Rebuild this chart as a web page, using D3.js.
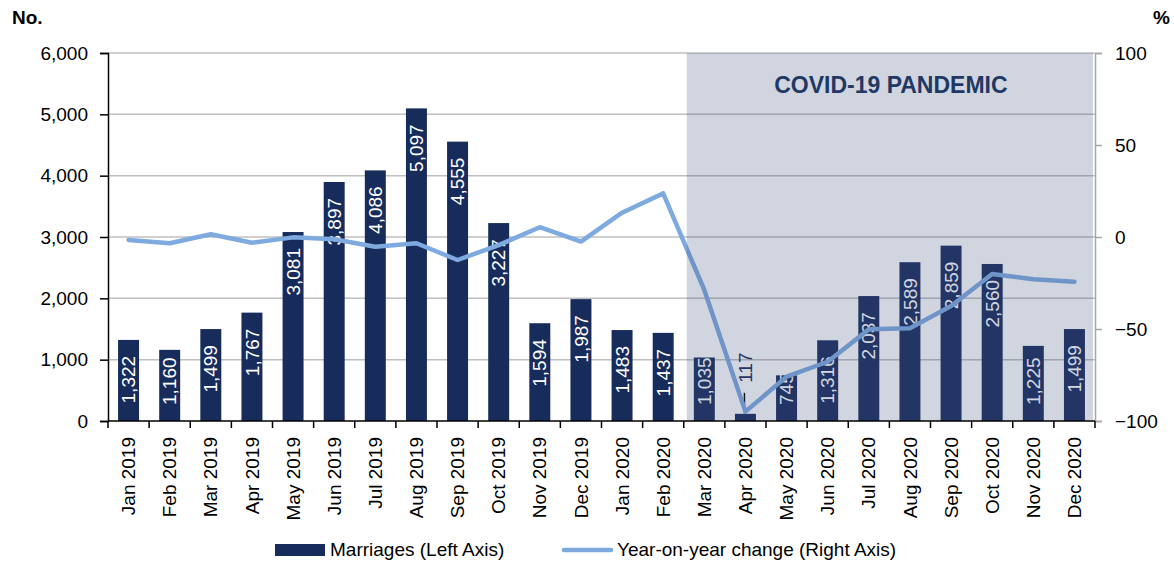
<!DOCTYPE html>
<html>
<head>
<meta charset="utf-8">
<script src="https://cdn.jsdelivr.net/npm/d3@7"></script>
<style>
  body { margin: 0; background: #fff; }
  svg { display: block; font-family: "Liberation Sans", Arial, sans-serif; }
</style>
</head>
<body>
<svg id="chart" width="1174" height="564"></svg>
<script>
// Data
const months = [
  'Jan 2019', 'Feb 2019', 'Mar 2019', 'Apr 2019', 'May 2019', 'Jun 2019',
  'Jul 2019', 'Aug 2019', 'Sep 2019', 'Oct 2019', 'Nov 2019', 'Dec 2019',
  'Jan 2020', 'Feb 2020', 'Mar 2020', 'Apr 2020', 'May 2020', 'Jun 2020',
  'Jul 2020', 'Aug 2020', 'Sep 2020', 'Oct 2020', 'Nov 2020', 'Dec 2020',
];
const marriages = [
  1322, 1160, 1499, 1767, 3081, 3897, 4086, 5097, 4555, 3227, 1594, 1987,
  1483, 1437, 1035, 117, 745, 1316, 2037, 2589, 2859, 2560, 1225, 1499,
];
const yoyChange = [
  -1.6, -3.4, 1.5, -3.1, -0.2, -1.2, -5.3, -3.4, -12.5, -4.4, 5.3, -2.5,
  13.2, 23.7, -28.8, -94.9, -75.9, -67.8, -50.2, -49.6, -37.5, -20.1, -23.0, -24.3,
];
const leftTicks = [0, 1000, 2000, 3000, 4000, 5000, 6000];
const rightTicks = [-100, -50, 0, 50, 100];
const pandemicStart = 'Mar 2020';
const outsideLabels = ['Apr 2020'];

// Settings
const bar_color = '#182c5c';
const line_color = '#7eaadf';
const grid_color = '#bfbfbf';
const font_size = 19;

const svg = d3.select('#chart');
const m = { left: 108, right: 1095, top: 53, bottom: 421 };

const x = d3.scaleBand()
  .domain(months)
  .range([m.left, m.right])
  .paddingInner(0.49)
  .paddingOuter(0.245);
const yL = d3.scaleLinear().domain([0, 6000]).range([m.bottom, m.top]);
const yR = d3.scaleLinear().domain([-100, 100]).range([m.bottom, m.top]);

// Gridlines
svg.append('g')
  .selectAll('line')
  .data(leftTicks.filter(d => d > 0))
  .enter()
  .append('line')
  .attr('x1', m.left)
  .attr('x2', m.right)
  .attr('y1', d => yL(d))
  .attr('y2', d => yL(d))
  .attr('stroke', grid_color)
  .attr('stroke-width', 1.5);

// Bars
svg.append('g')
  .selectAll('rect')
  .data(months)
  .enter()
  .append('rect')
  .attr('x', d => x(d))
  .attr('width', x.bandwidth())
  .attr('y', (d, i) => yL(marriages[i]))
  .attr('height', (d, i) => yL(0) - yL(marriages[i]))
  .attr('fill', bar_color);

// Bar labels
const labels = svg.append('g');
months.forEach((mo, i) => {
  const cx = x(mo) + x.bandwidth() / 2;
  const top = yL(marriages[i]);
  const txt = labels.append('text')
    .attr('font-size', font_size)
    .attr('dy', '0.35em')
    .text(d3.format(',')(marriages[i]));
  const len = txt.node().getComputedTextLength();
  if (outsideLabels.includes(mo)) {
    // label sits above the bar with a leader line
    const bottom = top - 31;
    txt.attr('fill', bar_color)
      .attr('transform', `translate(${cx},${bottom}) rotate(-90)`);
    labels.append('line')
      .attr('x1', cx - 1).attr('x2', cx - 1)
      .attr('y1', top - 1).attr('y2', top - 21)
      .attr('stroke', '#000').attr('stroke-width', 1.5);
  } else {
    const bottom = Math.min(top + 16 + len, m.bottom - 16);
    txt.attr('fill', '#fff')
      .attr('transform', `translate(${cx},${bottom}) rotate(-90)`);
  }
});

// Year-on-year line
const line = d3.line()
  .x((d, i) => x(months[i]) + x.bandwidth() / 2)
  .y(d => yR(d));
svg.append('path')
  .datum(yoyChange)
  .attr('d', line)
  .attr('fill', 'none')
  .attr('stroke', line_color)
  .attr('stroke-width', 4.5)
  .attr('stroke-linejoin', 'round')
  .attr('stroke-linecap', 'round');

// Pandemic shading (drawn over the marks)
const shadeX = x(pandemicStart) - x.step() * x.paddingInner() / 2 + 3;
svg.append('rect')
  .attr('x', shadeX)
  .attr('y', m.top)
  .attr('width', m.right - 2 - shadeX)
  .attr('height', m.bottom - m.top)
  .attr('fill', '#405480')
  .attr('fill-opacity', 0.245);
svg.append('text')
  .attr('x', (shadeX + m.right) / 2)
  .attr('y', 93)
  .attr('text-anchor', 'middle')
  .attr('font-size', 23)
  .attr('font-weight', 'bold')
  .attr('fill', '#1f3864')
  .text('COVID-19 PANDEMIC');

// Left axis
const leftAxis = svg.append('g')
  .attr('transform', `translate(${m.left},0)`)
  .call(d3.axisLeft(yL).tickValues(leftTicks).tickFormat(d3.format(',')).tickSize(8).tickPadding(12));
leftAxis.select('.domain').attr('stroke', '#000').attr('stroke-width', 1.5);
leftAxis.selectAll('.tick line').attr('stroke', '#000').attr('stroke-width', 1.5);
leftAxis.selectAll('.tick text')
  .attr('font-size', font_size)
  .attr('font-family', null)
  .attr('fill', '#000');

// Right axis
const rightAxis = svg.append('g')
  .attr('transform', `translate(${m.right},0)`)
  .call(d3.axisRight(yR).tickValues(rightTicks).tickSize(7).tickPadding(13));
rightAxis.select('.domain').attr('stroke', '#a6a6a6').attr('stroke-width', 1.5);
rightAxis.selectAll('.tick line').attr('stroke', '#a6a6a6').attr('stroke-width', 1.5);
rightAxis.selectAll('.tick text')
  .attr('font-size', font_size)
  .attr('font-family', null)
  .attr('fill', '#000');

// Bottom axis: baseline, ticks between bands, rotated labels
const bottom = svg.append('g');
bottom.append('line')
  .attr('x1', m.left).attr('x2', m.right)
  .attr('y1', m.bottom).attr('y2', m.bottom)
  .attr('stroke', '#000').attr('stroke-width', 1.5);
bottom.selectAll('line.tick')
  .data(d3.range(months.length + 1))
  .enter()
  .append('line')
  .attr('class', 'tick')
  .attr('x1', i => m.left + i * x.step())
  .attr('x2', i => m.left + i * x.step())
  .attr('y1', m.bottom)
  .attr('y2', m.bottom + 7)
  .attr('stroke', '#000').attr('stroke-width', 1.5);
bottom.selectAll('text')
  .data(months)
  .enter()
  .append('text')
  .attr('transform', d => `translate(${x(d) + x.bandwidth() / 2},${m.bottom + 16}) rotate(-90)`)
  .attr('text-anchor', 'end')
  .attr('dy', '0.35em')
  .attr('font-size', font_size)
  .attr('fill', '#000')
  .text(d => d);

// Axis titles
svg.append('text')
  .attr('x', 12).attr('y', 24)
  .attr('font-size', font_size).attr('font-weight', 'bold')
  .text('No.');
svg.append('text')
  .attr('x', 1153).attr('y', 24)
  .attr('font-size', font_size).attr('font-weight', 'bold')
  .text('%');

// Legend
const legend = svg.append('g');
legend.append('rect')
  .attr('x', 275).attr('y', 544)
  .attr('width', 50).attr('height', 12)
  .attr('fill', bar_color);
legend.append('text')
  .attr('x', 330).attr('y', 556)
  .attr('font-size', font_size)
  .text('Marriages (Left Axis)');
legend.append('line')
  .attr('x1', 564).attr('x2', 611)
  .attr('y1', 550).attr('y2', 550)
  .attr('stroke', line_color).attr('stroke-width', 4.5)
  .attr('stroke-linecap', 'round');
legend.append('text')
  .attr('x', 617).attr('y', 556)
  .attr('font-size', font_size)
  .text('Year-on-year change (Right Axis)');
</script>
</body>
</html>
